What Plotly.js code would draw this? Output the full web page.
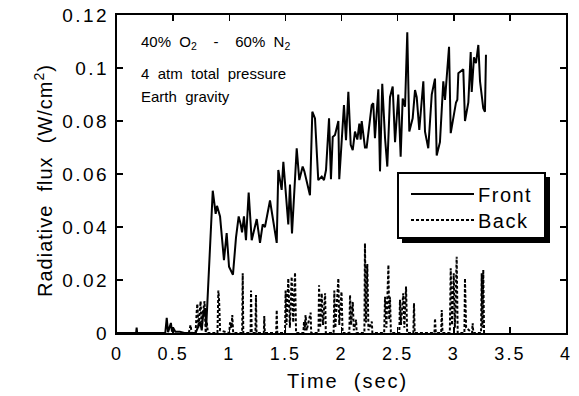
<!DOCTYPE html>
<html>
<head>
<meta charset="utf-8">
<script src="https://cdn.plot.ly/plotly-3.0.1.min.js"></script>
<style>
html,body{margin:0;padding:0;background:#fff;}
#chart{width:579px;height:396px;}
#chart .xtick text{letter-spacing:2px;}
#chart .ytick text{letter-spacing:2.5px;}
</style>
</head>
<body>
<div id="chart"></div>
<script>
// Front (solid) radiative flux, W/cm^2 vs time (s)
const frontTime = [0, 0.17, 0.175, 0.18, 0.43, 0.443, 0.455, 0.48, 0.49, 0.5, 0.52, 0.56, 0.6, 0.7, 0.724, 0.74, 0.755, 0.77, 0.784, 0.795,
  0.853, 0.879, 0.891, 0.918, 0.953, 0.977, 0.998, 1.033, 1.060, 1.084, 1.102, 1.114, 1.131, 1.149, 1.173, 1.200, 1.245, 1.274, 1.298, 1.318,
  1.363, 1.423, 1.437, 1.467, 1.482, 1.526, 1.541, 1.559, 1.601, 1.624, 1.654, 1.669, 1.719, 1.740, 1.764, 1.793, 1.824, 1.844, 1.862, 1.889,
  1.906, 1.922, 1.942, 1.972, 1.980, 2.022, 2.040, 2.061, 2.082, 2.100, 2.120, 2.141, 2.159, 2.171, 2.180, 2.209, 2.224, 2.269, 2.283, 2.298,
  2.328, 2.343, 2.363, 2.388, 2.408, 2.432, 2.456, 2.477, 2.506, 2.527, 2.545, 2.566, 2.586, 2.604, 2.634, 2.655, 2.670, 2.693, 2.729, 2.744,
  2.773, 2.804, 2.833, 2.848, 2.877, 2.907, 2.922, 2.958, 2.973, 2.996, 3.020, 3.032, 3.041, 3.085, 3.100, 3.130, 3.151, 3.160, 3.180, 3.198,
  3.219, 3.234, 3.263, 3.278, 3.287];
const frontFlux = [0, 0, 0.002, 0, 0, 0.0057, 0.0003, 0.0038, 0.0005, 0.002, 0.0005, 0.0005, 0, 0, 0.0024, 0.0043, 0.001, 0.008, 0.0094, 0.0025,
  0.0537, 0.045, 0.048, 0.044, 0.0275, 0.0377, 0.025, 0.022, 0.036, 0.044, 0.041, 0.038, 0.044, 0.035, 0.053, 0.035, 0.043, 0.034, 0.041, 0.040,
  0.050, 0.034, 0.0615, 0.054, 0.0646, 0.041, 0.056, 0.0376, 0.0697, 0.0577, 0.0628, 0.061, 0.052, 0.0835, 0.081, 0.0577, 0.059, 0.0577, 0.0615, 0.081,
  0.058, 0.074, 0.0747, 0.080, 0.058, 0.086, 0.0728, 0.091, 0.071, 0.069, 0.076, 0.073, 0.079, 0.073, 0.080, 0.070, 0.070, 0.086, 0.0867, 0.0735,
  0.092, 0.061, 0.094, 0.0735, 0.0628, 0.089, 0.093, 0.072, 0.090, 0.0665, 0.0885, 0.0854, 0.1135, 0.076, 0.081, 0.0917, 0.089, 0.0766, 0.095, 0.076,
  0.0697, 0.090, 0.096, 0.067, 0.072, 0.095, 0.088, 0.108, 0.0754, 0.0816, 0.087, 0.088, 0.098, 0.0995, 0.080, 0.087, 0.106, 0.091, 0.104, 0.1018,
  0.1087, 0.095, 0.0848, 0.0835, 0.105];

// Back (dotted) radiative flux
const backTime = [0.64, 0.655, 0.665, 0.70, 0.71, 0.716, 0.725, 0.735, 0.745, 0.752, 0.76, 0.78, 0.79, 0.80, 0.81,
  0.895, 0.903, 0.91, 0.918, 1.0, 1.007, 1.02, 1.027, 1.035, 1.115, 1.12, 1.125, 1.19, 1.194, 1.2, 1.233, 1.238, 1.243,
  1.308, 1.312, 1.317, 1.418, 1.423, 1.428, 1.497, 1.502, 1.51, 1.526, 1.54, 1.556, 1.57, 1.586, 1.595,
  1.66, 1.666, 1.672, 1.68, 1.69, 1.725, 1.73, 1.795, 1.800, 1.81, 1.824, 1.835, 1.854, 1.86,
  1.93, 1.936, 1.945, 1.972, 1.98, 2.0, 2.01, 2.07, 2.076, 2.085, 2.1, 2.11, 2.13, 2.135,
  2.204, 2.209, 2.218, 2.23, 2.24, 2.27, 2.275, 2.38, 2.388, 2.4, 2.418, 2.425, 2.432, 2.44,
  2.515, 2.521, 2.53, 2.55, 2.56, 2.575, 2.585, 2.64, 2.646, 2.652, 2.828, 2.833, 2.84, 2.888, 2.893, 2.9,
  2.965, 2.973, 2.985, 3.0, 3.01, 3.026, 3.035, 3.095, 3.1, 3.11, 3.163, 3.168, 3.175, 3.243, 3.249, 3.255, 3.263, 3.27];
const backFlux = [0, 0.003, 0, 0, 0.008, 0.011, 0.002, 0.009, 0.012, 0.004, 0.007, 0.012, 0, 0.004, 0,
  0, 0.016, 0.012, 0.001, 0, 0.004, 0.002, 0.0068, 0, 0, 0.0225, 0, 0, 0.016, 0, 0, 0.0143, 0,
  0, 0.0064, 0, 0, 0.0087, 0, 0, 0.016, 0.003, 0.0206, 0.002, 0.0212, 0.004, 0.0228, 0,
  0, 0.0043, 0.001, 0.0068, 0.001, 0.0077, 0, 0, 0.018, 0.002, 0.015, 0.003, 0.015, 0,
  0, 0.016, 0.002, 0.0206, 0.003, 0.0156, 0, 0, 0.0143, 0.003, 0.0118, 0.001, 0.005, 0,
  0, 0.0338, 0.004, 0.026, 0.001, 0.0043, 0, 0, 0.0137, 0.002, 0.0257, 0.005, 0.0137, 0,
  0, 0.0125, 0.003, 0.015, 0.002, 0.0175, 0, 0, 0.0112, 0, 0, 0.0055, 0, 0, 0.0087, 0,
  0, 0.0244, 0.003, 0.0225, 0.002, 0.0288, 0, 0, 0.0206, 0.002, 0, 0.0037, 0, 0, 0.0225, 0.002, 0.0238, 0];

const xTicks = [0, 0.5, 1, 1.5, 2, 2.5, 3, 3.5, 4];
const xTickText = ['0', '0.5', '1', '1.5', '2', '2.5', '3', '3.5', '4'];
const yTicks = [0, 0.02, 0.04, 0.06, 0.08, 0.1, 0.12];
const yTickText = ['0', '0.02', '0.04', '0.06', '0.08', '0.1', '0.12'];
const seriesNames = ['Front', 'Back'];

const FONT = 'Liberation Sans, Arial, sans-serif';
const sp = (t, ls) => '<span style="letter-spacing:' + ls + 'px">' + t + '</span>';

const traces = [
  {x: frontTime, y: frontFlux, type: 'scatter', mode: 'lines', name: seriesNames[0],
   line: {color: '#000', width: 2}},
  {x: backTime, y: backFlux, type: 'scatter', mode: 'lines', name: seriesNames[1],
   line: {color: '#000', width: 2, dash: '3px,2px'}}
];

const axisCommon = {
  showline: true, linecolor: '#000', linewidth: 2, mirror: 'ticks',
  ticks: 'inside', ticklen: 6, tickwidth: 1.5, tickcolor: '#000',
  showgrid: false, zeroline: false
};

// paper-coordinate helpers (plot area: 449 x 318 px)
const px = v => (v - 117) / 449;
const py = v => (333 - v) / 318;

const layout = {
  width: 579, height: 396,
  margin: {l: 117, r: 13, t: 15, b: 63},
  paper_bgcolor: '#fff', plot_bgcolor: '#fff',
  font: {family: FONT, color: '#000'},
  showlegend: false,
  xaxis: Object.assign({}, axisCommon, {
    range: [0, 4], tickvals: xTicks, ticktext: xTickText, ticklabelstandoff: 3,
    tickfont: {family: FONT, size: 18, color: '#000'}
  }),
  yaxis: Object.assign({}, axisCommon, {
    range: [0, 0.12], tickvals: yTicks, ticktext: yTickText, ticklabelstandoff: 2,
    tickfont: {family: FONT, size: 19, color: '#000'}
  }),
  shapes: [
    // legend shadow + box
    {type: 'rect', xref: 'paper', yref: 'paper', x0: px(402), x1: px(550), y0: py(243), y1: py(177),
     fillcolor: '#000', line: {width: 0}, layer: 'above'},
    {type: 'rect', xref: 'paper', yref: 'paper', x0: px(398), x1: px(545), y0: py(238), y1: py(173),
     fillcolor: '#fff', line: {color: '#000', width: 2}, layer: 'above'},
    {type: 'line', xref: 'paper', yref: 'paper', x0: px(411), x1: px(474), y0: py(194), y1: py(194),
     line: {color: '#000', width: 2}, layer: 'above'},
    {type: 'line', xref: 'paper', yref: 'paper', x0: px(411), x1: px(474), y0: py(220), y1: py(220),
     line: {color: '#000', width: 2, dash: '3px,2px'}, layer: 'above'}
  ],
  annotations: [
    {xref: 'paper', yref: 'paper', x: px(476), y: py(195), xanchor: 'left', yanchor: 'middle', showarrow: false,
     text: sp(seriesNames[0], 1.5), font: {family: FONT, size: 20, color: '#000'}},
    {xref: 'paper', yref: 'paper', x: px(476), y: py(221), xanchor: 'left', yanchor: 'middle', showarrow: false,
     text: sp(seriesNames[1], 1.5), font: {family: FONT, size: 20, color: '#000'}},
    {xref: 'paper', yref: 'paper', x: 0.05, y: 0.915, xanchor: 'left', yanchor: 'middle', showarrow: false,
     text: '40%  O<sub>2</sub>    -    60%  N<sub>2</sub>', font: {family: FONT, size: 15, color: '#000'}},
    {xref: 'paper', yref: 'paper', x: 0.05, y: 0.815, xanchor: 'left', yanchor: 'middle', showarrow: false,
     text: '4  atm  total  pressure', font: {family: FONT, size: 15, color: '#000'}},
    {xref: 'paper', yref: 'paper', x: 0.05, y: 0.745, xanchor: 'left', yanchor: 'middle', showarrow: false,
     text: 'Earth  gravity', font: {family: FONT, size: 15, color: '#000'}},
    // axis titles
    {xref: 'paper', yref: 'paper', x: px(347), y: py(381), xanchor: 'center', yanchor: 'middle', showarrow: false,
     text: sp('Time  (sec)', 2), font: {family: FONT, size: 20, color: '#000'}},
    {xref: 'paper', yref: 'paper', x: px(43), y: py(181), xanchor: 'center', yanchor: 'middle', showarrow: false,
     textangle: -90, text: sp('Radiative  flux  (W/cm<sup>2</sup>)', 1), font: {family: FONT, size: 20, color: '#000'}}
  ]
};

Plotly.newPlot('chart', traces, layout, {displayModeBar: false, staticPlot: true});
</script>
</body>
</html>
